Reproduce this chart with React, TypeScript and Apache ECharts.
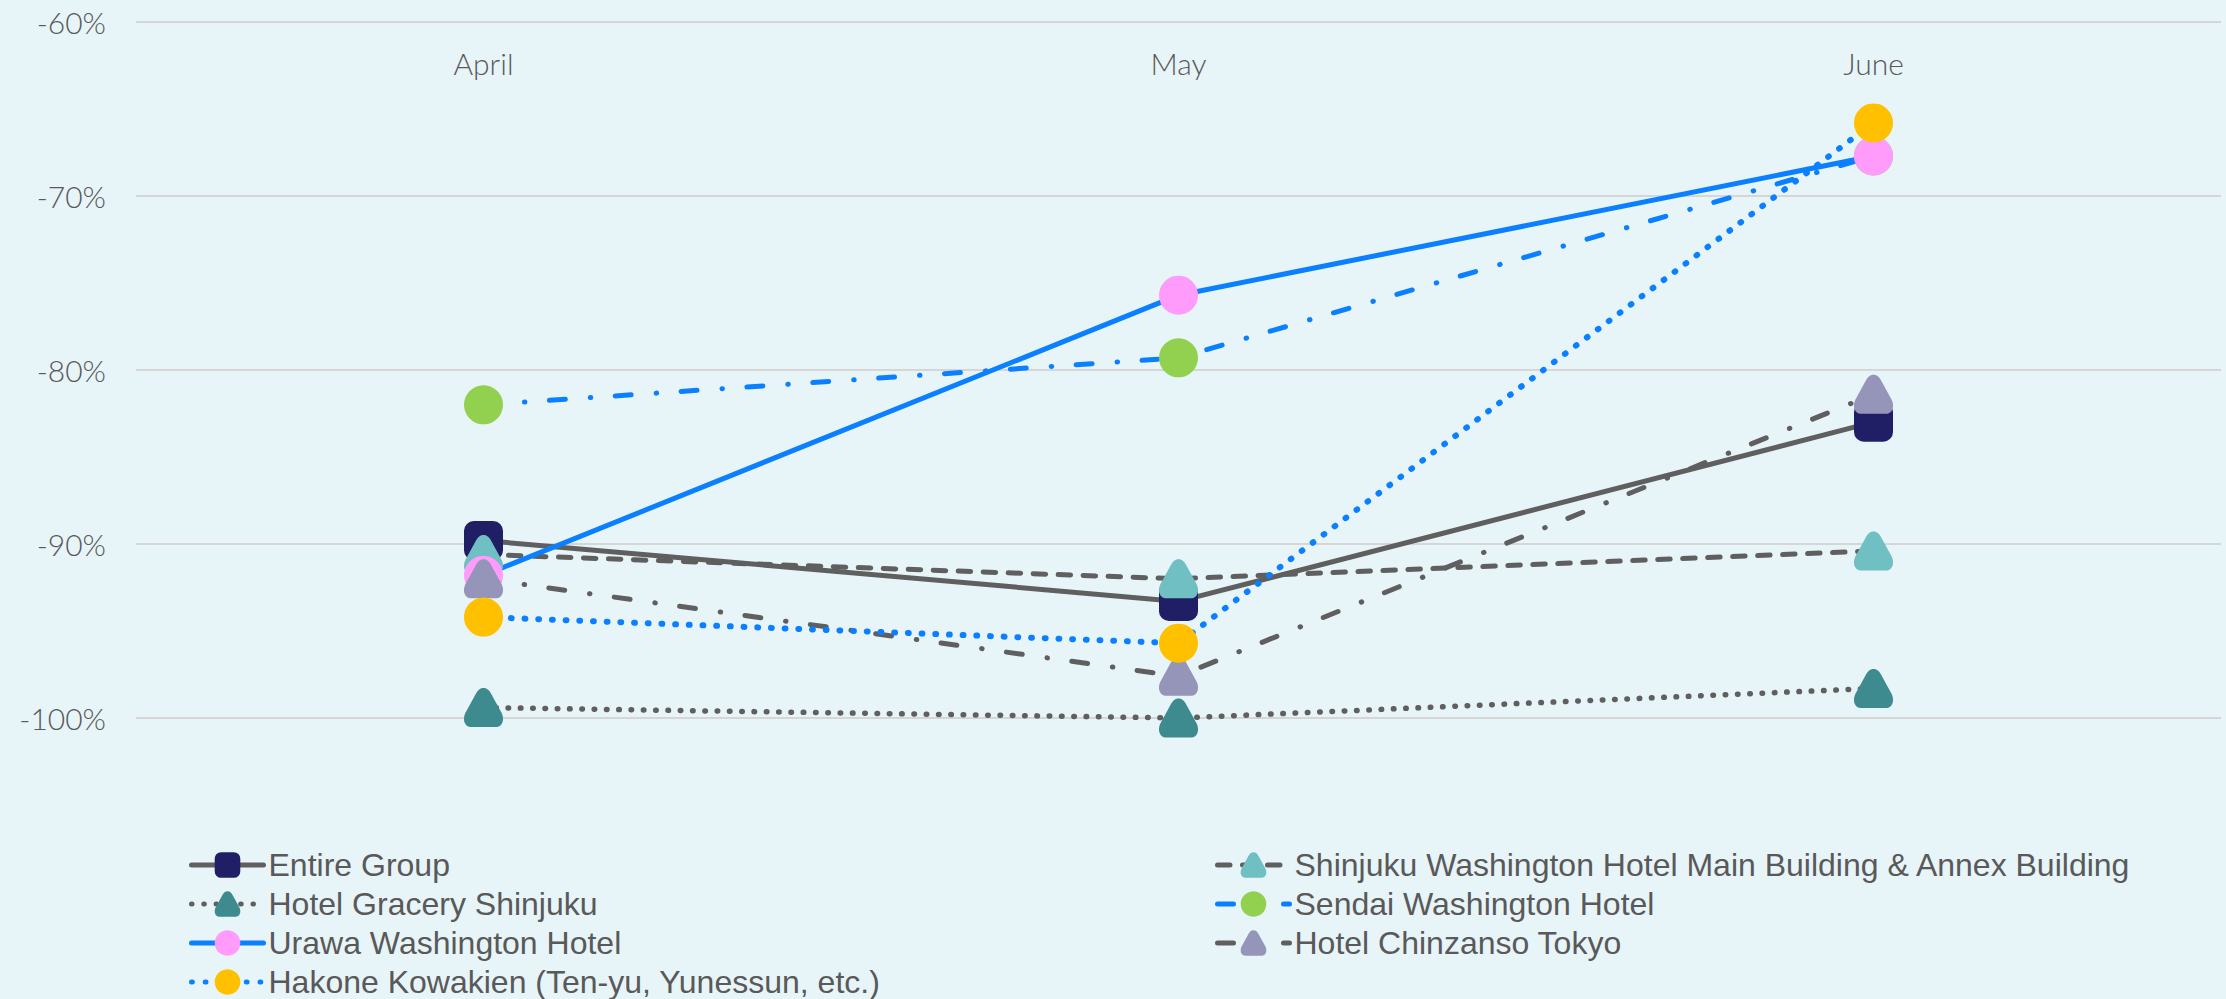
import React, { useEffect, useRef } from "react";
import * as echarts from "echarts";

const months = ["April", "May", "June"];
const yTicks = [-100, -90, -80, -70, -60];

const entireGroup = [-89.8, -93.3, -83.0];
const shinjukuWashington = [-90.6, -92.0, -90.4];
const gracery = [-99.4, -100.0, -98.3];
const sendai = [-82.0, -79.3, -67.7];
const urawa = [-91.8, -75.7, -67.7];
const chinzanso = [-92.0, -97.6, -81.4];
const hakone = [-94.2, -95.7, -65.8];

const names = {
  entire: "Entire Group",
  shinjuku: "Shinjuku Washington Hotel Main Building & Annex Building",
  gracery: "Hotel Gracery Shinjuku",
  sendai: "Sendai Washington Hotel",
  urawa: "Urawa Washington Hotel",
  chinzanso: "Hotel Chinzanso Tokyo",
  hakone: "Hakone Kowakien (Ten-yu, Yunessun, etc.)",
};

const TRI =
  "path://M50,0 C60,0 64,6 70,16 L96,64 C102,76 102,100 80,100 L20,100 C-2,100 -2,76 4,64 L30,16 C36,6 40,0 50,0 Z";

const GRAY = "#5f5f5f";
const BLUE = "#0a7fff";

export default function App() {
  const ref = useRef<HTMLDivElement>(null);

  useEffect(() => {
    if (!ref.current) return;
    const chart = echarts.init(ref.current, undefined, { renderer: "svg" });

    const mk = (
      name: string,
      data: number[],
      lineColor: string,
      dash: any,
      width: number,
      symbol: string,
      symColor: string
    ) => ({
      name,
      type: "line",
      data,
      symbol,
      symbolSize: 39,
      showSymbol: true,
      silent: true,
      emphasis: { disabled: true },
      lineStyle: { color: lineColor, width, type: dash, cap: "round" },
      itemStyle: { color: symColor, borderWidth: 0 },
    });

    const legendCommon = {
      orient: "vertical",
      top: 849,
      padding: 0,
      itemWidth: 72,
      itemHeight: 32,
      itemGap: 7,
      selectedMode: false,
      lineStyle: { width: 5, cap: "round" },
      textStyle: { fontFamily: "Liberation Sans", fontSize: 32, color: "#595959" },
    };

    chart.setOption({
      animation: false,
      backgroundColor: "#e7f4f8",
      grid: { left: 136, right: 5, top: 22, height: 696, containLabel: false },
      xAxis: {
        type: "category",
        data: months,
        position: "top",
        boundaryGap: true,
        axisLine: { show: false },
        axisTick: { show: false },
        splitLine: { show: false },
        axisLabel: {
          inside: true,
          margin: 26,
          color: "#595959",
          fontFamily: "Lato",
          fontWeight: 300,
          fontSize: 30,
        },
      },
      yAxis: {
        type: "value",
        min: yTicks[0],
        max: yTicks[yTicks.length - 1],
        interval: 10,
        axisLine: { show: false },
        axisTick: { show: false },
        splitLine: { lineStyle: { color: "#d6d6d6", width: 2 } },
        axisLabel: {
          margin: 30,
          color: "#595959",
          fontFamily: "Lato",
          fontWeight: 300,
          fontSize: 30,
          formatter: (v: number) => `${v}%`,
        },
      },
      legend: [
        {
          ...legendCommon,
          left: 189,
          data: [names.entire, names.gracery, names.urawa, names.hakone],
        },
        {
          ...legendCommon,
          left: 1215,
          data: [names.shinjuku, names.sendai, names.chinzanso],
        },
      ],
      series: [
        mk(names.entire, entireGroup, GRAY, "solid", 5, "roundRect", "#201f66"),
        mk(names.shinjuku, shinjukuWashington, GRAY, [12.5, 12.5], 5, TRI, "#70bfc3"),
        mk(names.gracery, gracery, GRAY, [0.5, 11.8], 5.5, TRI, "#3e8b8f"),
        mk(names.sendai, sendai, BLUE, [16, 25, 0.5, 24.5], 5, "circle", "#92d050"),
        mk(names.urawa, urawa, BLUE, "solid", 5, "circle", "#ff9cfb"),
        mk(names.chinzanso, chinzanso, GRAY, [16, 25, 0.5, 24.5], 5, TRI, "#9595b9"),
        mk(names.hakone, hakone, BLUE, [0.8, 12.9], 6, "circle", "#ffc000"),
      ],
    });

    return () => chart.dispose();
  }, []);

  return (
    <div
      ref={ref}
      style={{ position: "fixed", left: 0, top: 0, width: 2226, height: 999 }}
    />
  );
}
